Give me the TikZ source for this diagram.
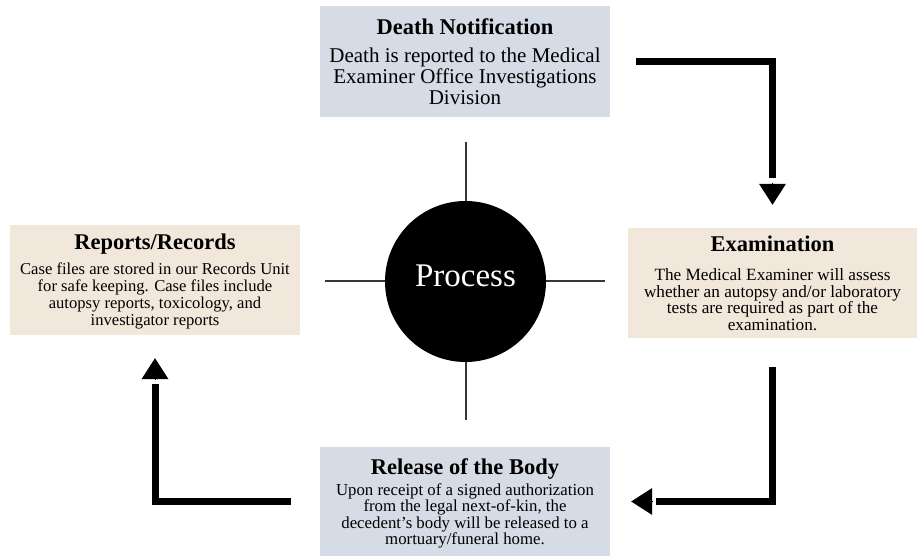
\documentclass[tikz,border=0pt]{standalone}
\usepackage{fontspec}
\setmainfont{Liberation Serif}
\usetikzlibrary{arrows.meta,positioning}

\definecolor{boxblue}{RGB}{214,220,229}
\definecolor{boxtan}{RGB}{242,231,219}
\definecolor{spokegray}{RGB}{55,55,55}

\newcommand{\boxhead}[1]{{\fontsize{22.5}{24}\selectfont\bfseries #1}}

\tikzset{
  infobox/.style={rectangle, minimum width=290pt, minimum height=110pt,
    inner sep=0pt, align=center},
  hub/.style={circle, fill=black, minimum size=161pt, inner sep=0pt,
    text=white, font=\fontsize{33}{36}\selectfont, text depth=12pt},
  spoke/.style={draw=spokegray, line width=2pt},
  flow/.style={line width=7pt},
  flowhead/.style={line width=0pt, -{Triangle[width=27pt,length=21pt]}},
}

\begin{document}
\begin{tikzpicture}[x=1pt,y=1pt]
  \useasboundingbox (0,0) rectangle (917,556);

  % the four steps
  \node[infobox, fill=boxblue, minimum height=111pt, text depth=-5pt,
    font=\fontsize{21}{21}\selectfont] (notify) at (465,494.5)
    {\boxhead{Death Notification}\\[7pt]
     Death is reported to the Medical\\
     Examiner Office Investigations\\
     Division};
  \node[infobox, fill=boxtan, minimum width=289pt, text depth=-8pt,
    font=\fontsize{17.2}{16.5}\selectfont] (exam) at (772.5,273)
    {\boxhead{Examination}\\[13pt]
     The Medical Examiner will assess\\
     whether an autopsy and/or laboratory\\
     tests are required as part of the\\
     examination.};
  \node[infobox, fill=boxblue, minimum height=109pt, text depth=-2.5pt,
    font=\fontsize{16.8}{16.5}\selectfont] (release) at (465,54.5)
    {\boxhead{Release of the Body}\\[3.5pt]
     Upon receipt of a signed authorization\\
     from the legal next-of-kin, the\\
     decedent’s body will be released to a\\
     mortuary/funeral home.};
  \node[infobox, fill=boxtan, text depth=-6.5pt,
    font=\fontsize{16.6}{17}\selectfont] (records) at (155,276)
    {\boxhead{Reports/Records}\\[8pt]
     Case files are stored in our Records Unit\\
     for safe keeping. Case files include\\
     autopsy reports, toxicology, and\\
     investigator reports};

  % hub with its cross
  \node[hub] (process) at (465.5,274.5) {Process};
  \draw[spoke] (process.north) -- ++(0,59);
  \draw[spoke] (process.south) -- ++(0,-58);
  \draw[spoke] (process.west) -- ++(-60,0);
  \draw[spoke] (process.east) -- ++(59,0);

  % elbow arrows, heads set apart from the lines
  \coordinate (a1s) at ([xshift=26pt]notify.east);
  \coordinate (a1e) at ([yshift=50pt]exam.north);
  \coordinate (a1b) at ([yshift=43pt]exam.north);
  \coordinate (a1t) at ([yshift=23pt]exam.north);
  \draw[flow] (a1s) -| (a1e);
  \draw[flowhead] (a1b) -- (a1t);

  \coordinate (a2s) at ([yshift=-29pt]exam.south);
  \coordinate (a2e) at ([xshift=46pt]release.east);
  \coordinate (a2b) at ([xshift=41pt]release.east);
  \coordinate (a2t) at ([xshift=21pt]release.east);
  \draw[flow] (a2s) |- (a2e);
  \draw[flowhead] (a2b) -- (a2t);

  \coordinate (a3s) at ([xshift=-29pt]release.west);
  \coordinate (a3e) at ([yshift=-49pt]records.south);
  \coordinate (a3b) at ([yshift=-44pt]records.south);
  \coordinate (a3t) at ([yshift=-23pt]records.south);
  \draw[flow] (a3s) -| (a3e);
  \draw[flowhead] (a3b) -- (a3t);
\end{tikzpicture}
\end{document}
